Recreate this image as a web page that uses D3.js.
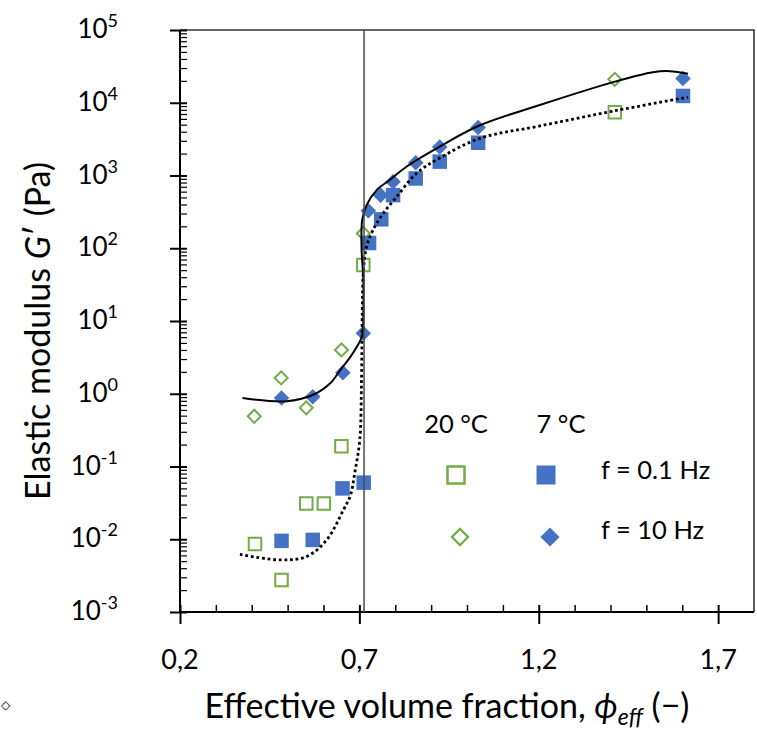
<!DOCTYPE html>
<html>
<head>
<meta charset="utf-8">
<script src="https://cdn.jsdelivr.net/npm/d3@7"></script>
<style>
  body { margin: 0; background: #fff; }
  svg { display: block; font-family: Lato, "Open Sans", sans-serif; }
</style>
</head>
<body>
<svg width="757" height="730"></svg>
<script>
// measured points, phi_eff vs G' (Pa)
const phiSq20 = [0.409, 0.483, 0.552, 0.601, 0.650, 0.711, 1.412];
const gSq20 = [0.0086, 0.00275, 0.031, 0.031, 0.19, 59, 7400];

const phiDi20 = [0.407, 0.482, 0.552, 0.650, 0.711, 1.412];
const gDi20 = [0.49, 1.65, 0.64, 4.0, 160, 21000];

const phiSq7 = [0.483, 0.570, 0.653, 0.712, 0.727, 0.761, 0.794, 0.857, 0.924, 1.031, 1.602];
const gSq7 = [0.0095, 0.0098, 0.050, 0.060, 118, 250, 537, 910, 1550, 2820, 12400];

const phiDi7 = [0.483, 0.570, 0.654, 0.711, 0.725, 0.759, 0.794, 0.857, 0.924, 1.031, 1.602];
const gDi7 = [0.875, 0.91, 1.95, 6.8, 328, 537, 822, 1500, 2460, 4580, 21500];

// fitted curves
const phiFit10 = [0.374, 0.497, 0.570, 0.618, 0.646, 0.674, 0.695, 0.708, 0.711, 0.711, 0.706, 0.708, 0.720, 0.748, 0.785, 0.831, 0.924, 1.036, 1.203, 1.412, 1.518, 1.565, 1.616];
const gFit10 = [0.875, 0.79, 0.96, 1.38, 2.09, 3.16, 4.6, 6.3, 12.9, 36, 105, 245, 390, 630, 870, 1320, 2500, 4900, 9300, 19500, 26300, 27200, 25100];

const phiFit01 = [0.367, 0.479, 0.553, 0.609, 0.655, 0.675, 0.687, 0.701, 0.706, 0.708, 0.711, 0.720, 0.738, 0.766, 0.804, 0.859, 0.924, 1.036, 1.203, 1.412, 1.616];
const gFit01 = [0.0062, 0.0052, 0.0058, 0.0098, 0.025, 0.040, 0.081, 0.23, 1.55, 12.9, 46, 105, 178, 300, 510, 1070, 1740, 3240, 4800, 7760, 11900];

const phiJam = 0.713;

const xTicks = [0.2, 0.7, 1.2, 1.7];
const yExps = [-3, -2, -1, 0, 1, 2, 3, 4, 5];

const blue = "#4472C4", green = "#70AD47";

const svg = d3.select("svg");
const x = d3.scaleLinear().domain([0.2, 1.8]).range([180, 754]);
const y = d3.scaleLog().domain([1e-3, 1e5]).range([612, 30]);

const zip = (a, b) => a.map((v, i) => [v, b[i]]);

// frame top/right
svg.append("path")
  .attr("d", `M${x(0.2)},${y(1e5)}H${x(1.8)}V${y(1e-3)}`)
  .attr("fill", "none").attr("stroke", "#333").attr("stroke-width", 1.6);

// minor ticks (inside)
const minorX = d3.range(0.3, 1.8, 0.1).filter(v => !xTicks.some(t => Math.abs(t - v) < 1e-6));
svg.append("g")
  .attr("transform", `translate(0,${y(1e-3)})`)
  .call(d3.axisBottom(x).tickValues(minorX).tickSize(-7).tickFormat(""))
  .call(g => g.select(".domain").remove())
  .selectAll("line").attr("stroke", "#000").attr("stroke-width", 1.5);

const minorY = [];
for (let e = -3; e < 5; e++) for (let m = 2; m <= 9; m++) minorY.push(m * Math.pow(10, e));
svg.append("g")
  .attr("transform", `translate(${x(0.2)},0)`)
  .call(d3.axisLeft(y).tickValues(minorY).tickSize(-7).tickFormat(""))
  .call(g => g.select(".domain").remove())
  .selectAll("line").attr("stroke", "#000").attr("stroke-width", 1.2);

// major axes
const xAxis = svg.append("g")
  .attr("transform", `translate(0,${y(1e-3)})`)
  .call(d3.axisBottom(x).tickValues(xTicks).tickSize(12).tickFormat(""));
xAxis.select(".domain").attr("stroke-width", 2).attr("d", `M${x(0.2)},0H${x(1.8)}`);
xAxis.selectAll(".tick line").attr("y1", -7).attr("stroke-width", 2);

const yAxis = svg.append("g")
  .attr("transform", `translate(${x(0.2)},0)`)
  .call(d3.axisLeft(y).tickValues(yExps.map(e => Math.pow(10, e))).tickSize(10).tickFormat(""));
yAxis.select(".domain").attr("stroke-width", 2).attr("d", `M0,${y(1e-3)}V${y(1e5)}`);
yAxis.selectAll(".tick line").attr("x1", 7).attr("stroke-width", 2);

// tick labels
svg.append("g").selectAll("text").data(xTicks).join("text")
  .attr("x", d => x(d)).attr("y", 669)
  .attr("text-anchor", "middle").attr("font-size", 27)
  .text(d => d3.format(".1f")(d).replace(".", ","));

const yl = svg.append("g").selectAll("text").data(yExps).join("text")
  .attr("x", 118).attr("y", d => y(Math.pow(10, d)) + 8)
  .attr("text-anchor", "end").attr("font-size", 26);
yl.append("tspan").text("10");
yl.append("tspan").attr("dy", -11).attr("font-size", 18).text(d => String(d));

// axis titles
const xt = svg.append("text").attr("x", 447).attr("y", 718)
  .attr("text-anchor", "middle").attr("font-size", 34);
xt.append("tspan").text("Effective volume fraction, ");
xt.append("tspan").attr("font-style", "italic").text("ϕ");
xt.append("tspan").attr("font-style", "italic").attr("font-size", 23).attr("dy", 7).text("eff");
xt.append("tspan").attr("dy", -7).text(" (−)");

const yt = svg.append("text").attr("transform", "translate(50,331) rotate(-90)")
  .attr("text-anchor", "middle").attr("font-size", 34);
yt.append("tspan").text("Elastic modulus ");
yt.append("tspan").attr("font-style", "italic").text("G");
yt.append("tspan").text("′ (Pa)");

// markers
const sq = s => d3.symbol(d3.symbolSquare, s * s)();

function drawSeries(phi, g, shape, fill, stroke, rot) {
  svg.append("g").selectAll("path").data(zip(phi, g)).join("path")
    .attr("d", shape)
    .attr("transform", d => `translate(${x(d[0])},${y(d[1])}) rotate(${rot})`)
    .attr("fill", fill).attr("stroke", stroke).attr("stroke-width", 2);
}
drawSeries(phiSq20, gSq20, sq(12.5), "none", green, 0);
drawSeries(phiDi20, gDi20, sq(9.2), "none", green, 45);
drawSeries(phiSq7, gSq7, sq(14.5), blue, "none", 0);
drawSeries(phiDi7, gDi7, sq(11), blue, "none", 45);

// fitted lines
const line = d3.line().x(d => x(d[0])).y(d => y(d[1])).curve(d3.curveCatmullRom.alpha(0.5));
svg.append("path").attr("d", line(zip(phiFit10, gFit10)))
  .attr("fill", "none").attr("stroke", "#000").attr("stroke-width", 2);
svg.append("path").attr("d", line(zip(phiFit01, gFit01)))
  .attr("fill", "none").attr("stroke", "#000").attr("stroke-width", 2.8)
  .attr("stroke-dasharray", "2.8,2.8");

// jamming line
svg.append("line")
  .attr("x1", x(phiJam)).attr("x2", x(phiJam))
  .attr("y1", y(1e5)).attr("y2", y(1e-3))
  .attr("stroke", "#4a4a4a").attr("stroke-width", 1.5);

// legend
const lg = svg.append("g").attr("font-size", 25.5);
lg.append("text").attr("x", 456).attr("y", 433).attr("text-anchor", "middle").text("20 °C");
lg.append("text").attr("x", 561).attr("y", 433).attr("text-anchor", "middle").text("7 °C");
lg.append("path").attr("d", sq(17)).attr("transform", "translate(456,475)")
  .attr("fill", "none").attr("stroke", green).attr("stroke-width", 2.5);
lg.append("path").attr("d", sq(19)).attr("transform", "translate(546,475)").attr("fill", blue);
lg.append("path").attr("d", sq(11.5)).attr("transform", "translate(460,537) rotate(45)")
  .attr("fill", "none").attr("stroke", green).attr("stroke-width", 2.2);
lg.append("path").attr("d", sq(13.5)).attr("transform", "translate(550,537) rotate(45)").attr("fill", blue);
lg.append("text").attr("x", 601).attr("y", 479).text("f = 0.1 Hz");
lg.append("text").attr("x", 601).attr("y", 539).text("f = 10 Hz");

// stray symbol at the lower left edge
svg.append("text").attr("x", 1).attr("y", 709)
  .attr("font-size", 12).attr("font-family", "DejaVu Sans").text("◇");
</script>
</body>
</html>
